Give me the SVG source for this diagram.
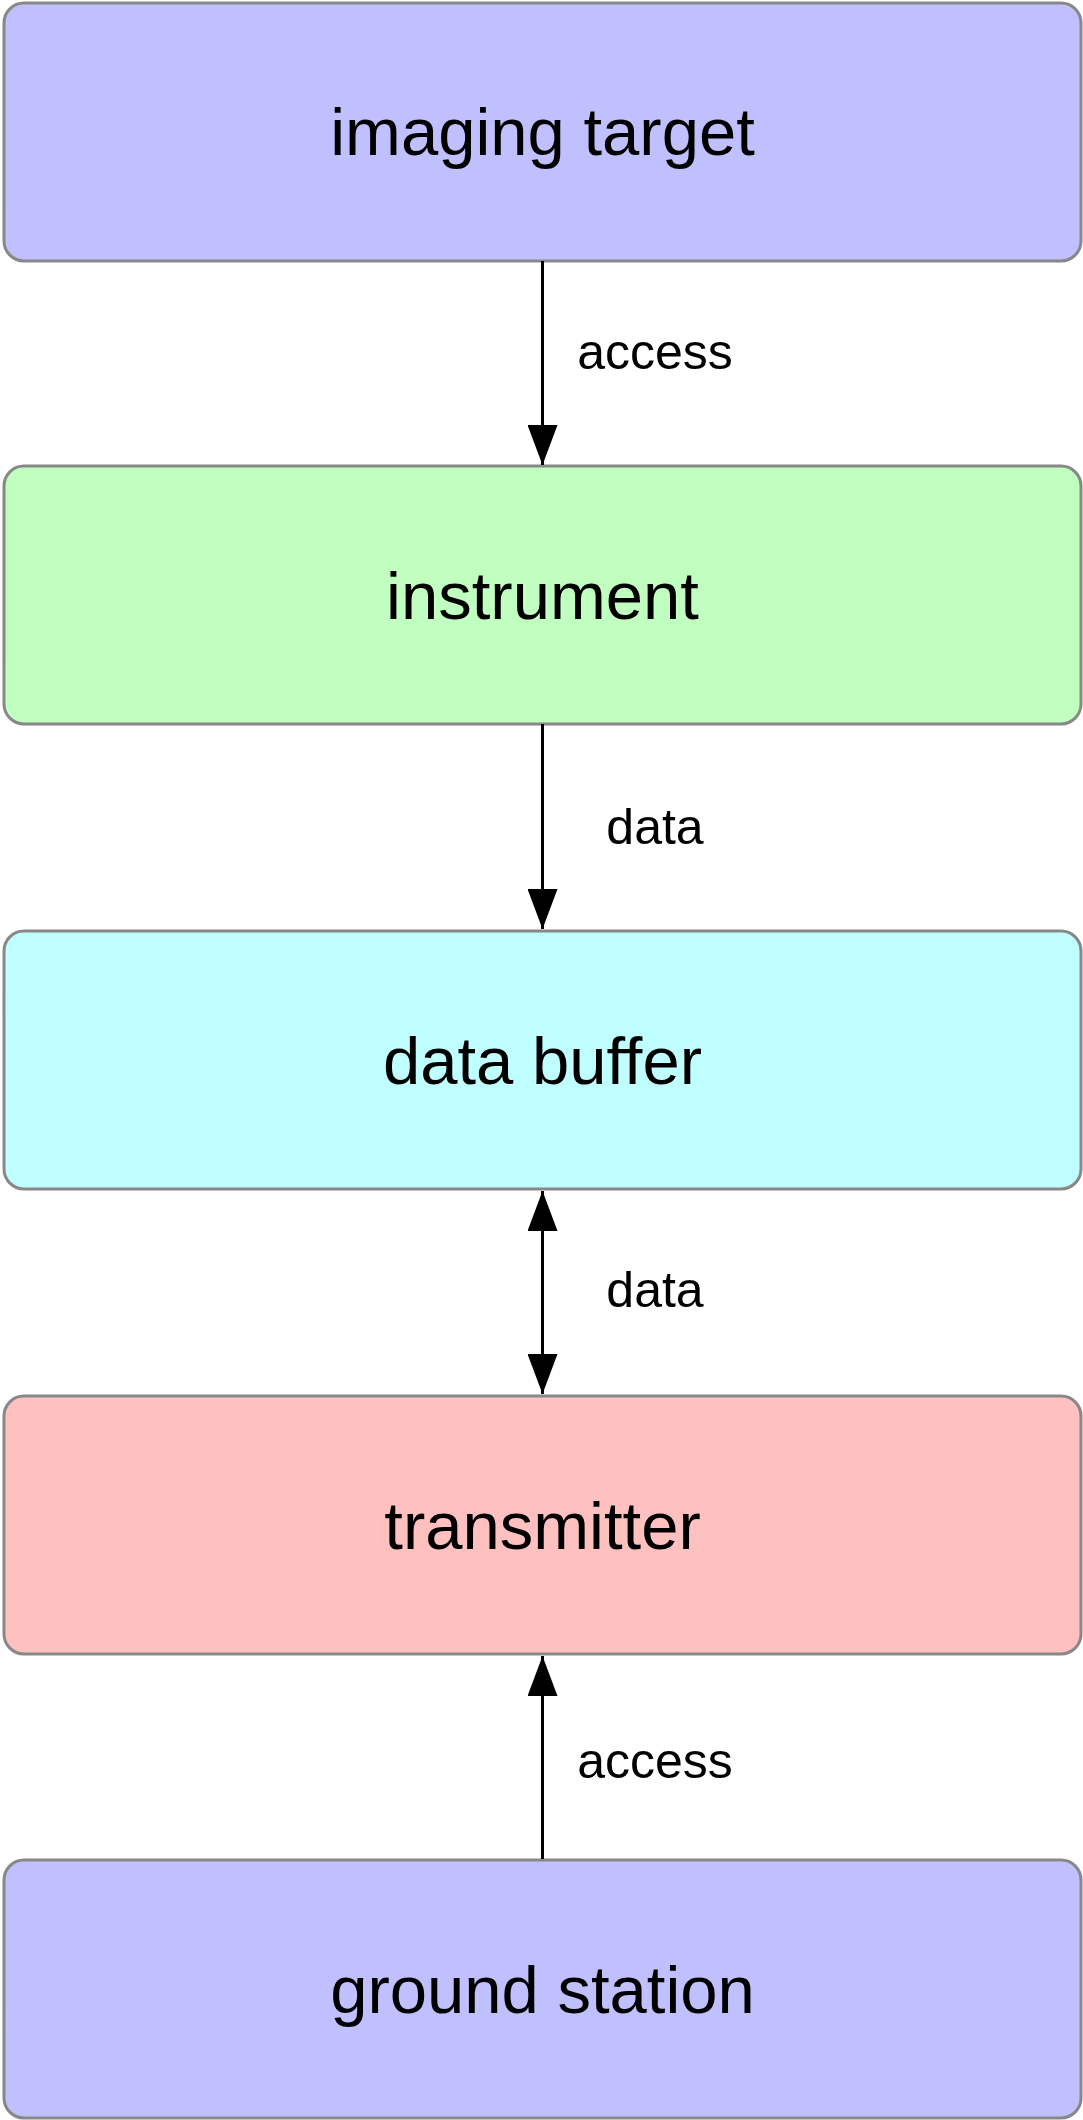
<svg xmlns="http://www.w3.org/2000/svg" width="1083" height="2120" viewBox="0 0 1083 2120">
<style>
.box{stroke:#888888;stroke-width:3}
.title{font-family:"Liberation Sans",Arial,Helvetica,sans-serif;font-size:67px;fill:#000;text-anchor:middle}
.lbl{font-family:"Liberation Sans",Arial,Helvetica,sans-serif;font-size:50px;fill:#000;text-anchor:middle}
.edge{stroke:#000;stroke-width:3;fill:none}
</style>
<defs>
<marker id="ah" viewBox="0 0 40 30" refX="40" refY="15" markerWidth="40" markerHeight="30" markerUnits="userSpaceOnUse" orient="auto-start-reverse">
<path d="M0,0 L40,15 L0,30 Z" fill="#000"/>
</marker>
</defs>
<rect width="1083" height="2120" fill="#fff"/>
<g id="imaging-target">
<rect class="box" x="4" y="3" width="1077" height="258" rx="20" fill="#C0C0FF"/>
<text class="title" x="542.5" y="155">imaging target</text>
</g>
<g id="instrument">
<rect class="box" x="4" y="466" width="1077" height="258" rx="20" fill="#C0FFC0"/>
<text class="title" x="542.5" y="619">instrument</text>
</g>
<g id="data-buffer">
<rect class="box" x="4" y="931" width="1077" height="258" rx="20" fill="#C0FFFF"/>
<text class="title" x="542.5" y="1084">data buffer</text>
</g>
<g id="transmitter">
<rect class="box" x="4" y="1396" width="1077" height="258" rx="20" fill="#FFC0C0"/>
<text class="title" x="542.5" y="1549">transmitter</text>
</g>
<g id="ground-station">
<rect class="box" x="4" y="1860" width="1077" height="258" rx="20" fill="#C0C0FF"/>
<text class="title" x="542.5" y="2013">ground station</text>
</g>
<g id="connectors">
<line class="edge" x1="542.5" y1="261" x2="542.5" y2="465" marker-end="url(#ah)"/>
<text class="lbl" x="655" y="369">access</text>
<line class="edge" x1="542.5" y1="724" x2="542.5" y2="929" marker-end="url(#ah)"/>
<text class="lbl" x="655" y="844">data</text>
<line class="edge" x1="542.5" y1="1191" x2="542.5" y2="1394" marker-start="url(#ah)" marker-end="url(#ah)"/>
<text class="lbl" x="655" y="1307">data</text>
<line class="edge" x1="542.5" y1="1859" x2="542.5" y2="1656" marker-end="url(#ah)"/>
<text class="lbl" x="655" y="1778">access</text>
</g>
</svg>
